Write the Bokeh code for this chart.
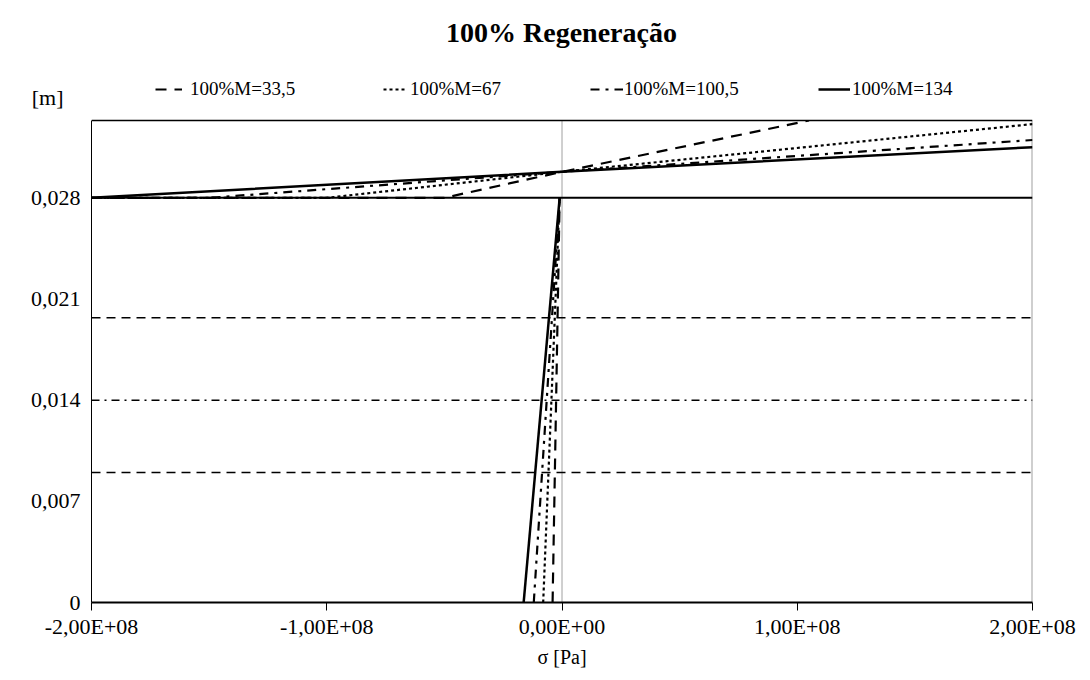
from bokeh.plotting import figure
from bokeh.models import (Range1d, FixedTicker, LinearAxis, Label, Legend,
                          LegendItem, Span, BoxAnnotation)
from bokeh.embed import file_html
from bokeh.resources import INLINE

# ---- data -------------------------------------------------------------
x_ticks = [-2e8, -1e8, 0, 1e8, 2e8]
x_tick_labels = ["-2,00E+08", "-1,00E+08", "0,00E+00", "1,00E+08", "2,00E+08"]
y_ticks = [0, 0.007, 0.014, 0.021, 0.028]
y_tick_labels = ["0", "0,007", "0,014", "0,021", "0,028"]

series_names = ["100%M=33,5", "100%M=67", "100%M=100,5", "100%M=134"]

# upper branch of each curve (sigma in Pa, displacement in m)
upper_sigma = [
    [-2e8, -0.5e8, 0, 1.05e8],
    [-2e8, -1.0e8, 0, 2e8],
    [-2e8, -1.5e8, 0, 2e8],
    [-2e8, 0, 2e8],
]
upper_disp = [
    [0.028, 0.028, 0.0298, 0.03335],
    [0.028, 0.028, 0.0298, 0.0331],
    [0.028, 0.028, 0.0298, 0.0320],
    [0.028, 0.0298, 0.0315],
]

# lower (near vertical) branch of each curve
lower_sigma = [
    [-0.40e7, -0.1e7],
    [-0.80e7, -0.1e7],
    [-1.20e7, -0.1e7],
    [-1.63e7, -0.1e7],
]
lower_disp = [
    [0.0, 0.028],
    [0.0, 0.028],
    [0.0, 0.028],
    [0.0, 0.028],
]

# horizontal reference levels
ref_levels = [0.028, 0.0197, 0.014, 0.009]

# ---- layout -----------------------------------------------------------
FONT = "Liberation Serif"
W, H = 1090, 680
LEFT, RIGHT, BOTTOM = 91, 58, 78
BOX_TOP_PX = 120                      # top edge of the plot box (canvas px)
frame_h = H - BOTTOM                  # frame reaches the top of the canvas
box_h = frame_h - BOX_TOP_PX
y_box_top = 0.03335                   # value at the top edge of the plot box
y_frame_top = y_box_top * frame_h / box_h
y_unit_pos = y_box_top * (frame_h - 97) / box_h   # height of the "[m]" label

series_dash = ["11 8", "3 3", "9 6 3 6", "solid"]
series_width = [2.2, 2.2, 2.2, 2.5]
ref_dash = ["solid", "9 6", "8 5 2 5", "9 6"]
ref_width = [2.0, 1.5, 1.5, 1.5]

p = figure(width=W, height=H, output_backend="svg", toolbar_location=None,
           x_range=Range1d(x_ticks[0], x_ticks[-1]),
           y_range=Range1d(0, y_frame_top),
           min_border_left=LEFT, min_border_right=RIGHT,
           min_border_top=0, min_border_bottom=BOTTOM,
           x_axis_type=None, y_axis_type=None)
p.background_fill_color = "white"
p.border_fill_color = "white"
p.outline_line_color = None
p.xgrid.visible = False
p.ygrid.visible = False

# bottom axis
xaxis = LinearAxis(ticker=FixedTicker(ticks=x_ticks, minor_ticks=[]))
xaxis.major_label_overrides = {t: l for t, l in zip(x_ticks, x_tick_labels)}
xaxis.major_label_text_font = FONT
xaxis.major_label_text_font_size = "22px"
xaxis.major_label_text_color = "black"
xaxis.major_label_standoff = 3
xaxis.major_tick_out = 8
xaxis.major_tick_in = 0
xaxis.major_tick_line_color = "black"
xaxis.major_tick_line_width = 1
xaxis.axis_line_color = "black"
xaxis.axis_line_width = 2
xaxis.axis_label = "σ [Pa]"
xaxis.axis_label_text_font = FONT
xaxis.axis_label_text_font_size = "20px"
xaxis.axis_label_text_font_style = "normal"
xaxis.axis_label_text_color = "black"
xaxis.axis_label_standoff = 4
p.add_layout(xaxis, "below")

# left axis, limited to the plot box
yaxis = LinearAxis(ticker=FixedTicker(ticks=y_ticks, minor_ticks=[]),
                   bounds=(0, y_box_top))
yaxis.major_label_overrides = {t: l for t, l in zip(y_ticks, y_tick_labels)}
yaxis.major_label_text_font = FONT
yaxis.major_label_text_font_size = "22px"
yaxis.major_label_text_color = "black"
yaxis.major_label_standoff = 11
yaxis.major_tick_out = 0
yaxis.major_tick_in = 0
yaxis.major_tick_line_color = None
yaxis.axis_line_color = "black"
yaxis.axis_line_width = 1
p.add_layout(yaxis, "left")

# unit label of the vertical axis, set above the box
unit_axis = LinearAxis(ticker=FixedTicker(ticks=[y_unit_pos], minor_ticks=[]))
unit_axis.major_label_overrides = {y_unit_pos: "[m]"}
unit_axis.major_label_text_font = FONT
unit_axis.major_label_text_font_size = "22px"
unit_axis.major_label_text_color = "black"
unit_axis.major_label_standoff = -36
unit_axis.major_tick_out = 0
unit_axis.major_tick_in = 0
unit_axis.major_tick_line_color = None
unit_axis.axis_line_color = None
p.add_layout(unit_axis, "left")

# sigma = 0 guide and right edge of the box
p.line(x=[0, 0], y=[0, y_box_top], line_color="#a0a0a0", line_width=1)
p.line(x=[x_ticks[-1]] * 2, y=[0, y_box_top], line_color="#a0a0a0",
       line_width=2)

# reference levels
for lvl, dash, w in zip(ref_levels, ref_dash, ref_width):
    p.line(x=[x_ticks[0], x_ticks[-1]], y=[lvl, lvl], line_color="black",
           line_width=w, line_dash=dash)

# curves
renderers = []
for i in range(len(series_names)):
    r = p.line(x=upper_sigma[i], y=upper_disp[i], line_color="black",
               line_width=series_width[i], line_dash=series_dash[i])
    p.line(x=lower_sigma[i], y=lower_disp[i], line_color="black",
           line_width=series_width[i], line_dash=series_dash[i])
    renderers.append(r)

# blank header area above the box, then the box's top edge
p.add_layout(BoxAnnotation(bottom=y_box_top, fill_color="white", fill_alpha=1,
                           line_color=None))
p.add_layout(Span(location=y_box_top, dimension="width", line_color="black",
                  line_width=1.5))

# one legend entry per box, in a row above the plot
leg_x = [64, 292, 499, 727]
leg_glyph_w = [27, 24, 33, 32]
leg_standoff = [8, 3, 1, 2]
for i, name in enumerate(series_names):
    lg = Legend(items=[LegendItem(label=name, renderers=[renderers[i]])],
                location=(leg_x[i], frame_h - 100), orientation="horizontal",
                padding=0, margin=0, spacing=0,
                glyph_width=leg_glyph_w[i], glyph_height=20,
                label_height=20, label_standoff=leg_standoff[i],
                label_text_font=FONT, label_text_font_size="19px",
                label_text_color="black", label_text_baseline="middle",
                border_line_color=None, background_fill_alpha=0)
    p.add_layout(lg)

# title
p.add_layout(Label(x=470, y=frame_h - 32, x_units="screen", y_units="screen",
                   text="100% Regeneração", text_font=FONT,
                   text_font_size="28px", text_font_style="bold",
                   text_align="center", text_baseline="middle",
                   text_color="black"))

open("out.html", "w").write(file_html(p, INLINE))
